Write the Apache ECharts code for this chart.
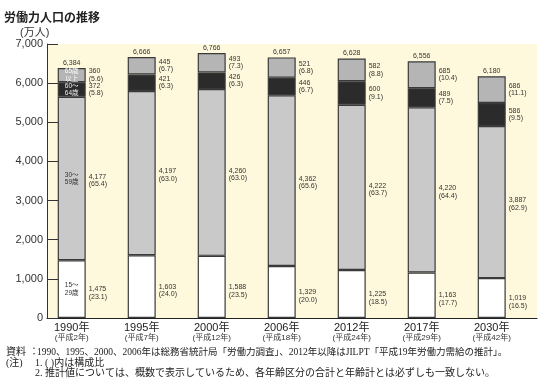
<!DOCTYPE html>
<html>
<head>
<meta charset="utf-8">
<script src="https://cdn.jsdelivr.net/npm/echarts@6/dist/echarts.min.js"></script>
<style>
html,body{margin:0;padding:0;background:#fff;}
#chart{width:550px;height:385px;}
</style>
</head>
<body>
<div id="chart"></div>
<script>
// ---- data ----
const categories = ['1990年','1995年','2000年','2006年','2012年','2017年','2030年'];
const eraLabels = ['(平成2年)','(平成7年)','(平成12年)','(平成18年)','(平成24年)','(平成29年)','(平成42年)'];
const age15_29 = [1475,1603,1588,1329,1225,1163,1019];
const age30_59 = [4177,4197,4260,4362,4222,4220,3887];
const age60_64 = [372,421,426,446,600,489,586];
const age65plus = [360,445,493,521,582,685,686];
const totals = [6384,6666,6766,6657,6628,6556,6180];
const pct15_29 = [23.1,24.0,23.5,20.0,18.5,17.7,16.5];
const pct30_59 = [65.4,63.0,63.0,65.6,63.7,64.4,62.9];
const pct60_64 = [5.8,6.3,6.3,6.7,9.1,7.5,9.5];
const pct65plus = [5.6,6.7,7.3,6.8,8.8,10.4,11.1];
const groupNames = ['15～\n29歳','30～\n59歳','60～\n64歳','65歳\n以上'];
const yTicks = [0,1000,2000,3000,4000,5000,6000,7000];

const fmt = v => v.toLocaleString('en-US');
const FONT = '"Liberation Sans","Noto Sans CJK JP",sans-serif';
const SERIF = '"Liberation Serif","Noto Sans CJK JP",serif';
const TOP = 44, BOTTOM = 67;

function segSeries(name, vals, pcts, color, offY) {
  return {
    name: name, type: 'bar', stack: 'a', xAxisIndex: 0, yAxisIndex: 0,
    barWidth: 28, barGap: '-100%',
    data: vals,
    itemStyle: {color: color, borderColor: '#3a3a3a', borderWidth: 1.2},
    label: {
      show: true, position: 'right', distance: 3, offset: [0, offY],
      fontSize: 7, lineHeight: 7.5, color: '#333', fontFamily: FONT,
      formatter: p => fmt(vals[p.dataIndex]) + '\n(' + pcts[p.dataIndex].toFixed(1) + ')'
    }
  };
}
function insideSeries(vals, text, color) {
  return {
    type: 'bar', stack: 'b', xAxisIndex: 0, yAxisIndex: 0,
    barWidth: 28, barGap: '-100%',
    data: vals.map((v, i) => i === 0 ? v : '-'),
    itemStyle: {color: 'rgba(0,0,0,0)', borderWidth: 0},
    label: {show: true, position: 'inside', fontSize: 6.5, lineHeight: 7.5, color: color,
      fontFamily: FONT, formatter: () => text}
  };
}

const chart = echarts.init(document.getElementById('chart'), null, {renderer: 'canvas'});
chart.setOption({
  animation: false,
  backgroundColor: '#fff',
  textStyle: {fontFamily: FONT},
  grid: [
    {left: 36.7, right: 23.3, top: TOP, bottom: BOTTOM},
    {left: 47, right: 13, top: TOP, bottom: BOTTOM, show: true, backgroundColor: '#fef9dc', borderWidth: 0}
  ],
  xAxis: [
    {type: 'category', gridIndex: 0, data: categories,
     axisLine: {show: false}, axisTick: {show: false},
     axisLabel: {margin: 4, interval: 0,
       formatter: (v, i) => '{y|' + v + '}\n{e|' + eraLabels[i] + '}',
       rich: {y: {fontSize: 11, lineHeight: 11, color: '#222', fontFamily: FONT},
              e: {fontSize: 8, lineHeight: 10, color: '#333', fontFamily: FONT}}}},
    {type: 'category', gridIndex: 1, data: categories,
     axisLine: {show: true, lineStyle: {color: '#222', width: 1.2}},
     axisTick: {show: false}, axisLabel: {show: false}}
  ],
  yAxis: [
    {type: 'value', gridIndex: 0, min: 0, max: 7000, interval: 1000, show: false},
    {type: 'value', gridIndex: 1, min: 0, max: 7000, interval: 1000,
     axisLine: {show: true, lineStyle: {color: '#333', width: 1}},
     axisTick: {show: true, inside: true, length: 11, lineStyle: {color: '#333', width: 1}},
     splitLine: {show: false},
     axisLabel: {margin: 4, fontSize: 11, color: '#333', fontFamily: FONT,
       formatter: v => fmt(yTicks[yTicks.indexOf(v)])}}
  ],
  series: [
    segSeries('15～29歳', age15_29, pct15_29, '#ffffff', 4),
    segSeries('30～59歳', age30_59, pct30_59, '#c9c9c9', 2),
    segSeries('60～64歳', age60_64, pct60_64, '#2b2b2b', 0),
    segSeries('65歳以上', age65plus, pct65plus, '#b5b5b5', 0),
    insideSeries(age15_29, groupNames[0], '#333'),
    insideSeries(age30_59, groupNames[1], '#333'),
    insideSeries(age60_64, groupNames[2], '#eee'),
    insideSeries(age65plus, groupNames[3], '#fff'),
    {
      type: 'bar', xAxisIndex: 0, yAxisIndex: 0, barWidth: 28, barGap: '-100%',
      data: totals,
      itemStyle: {color: 'rgba(0,0,0,0)', borderWidth: 0},
      label: {show: true, position: 'top', distance: 2, fontSize: 7, color: '#333', fontFamily: FONT,
        formatter: p => fmt(totals[p.dataIndex])}
    }
  ],
  graphic: [
    {type: 'text', x: 4, y: 17, style: {text: '労働力人口の推移', fontSize: 12, fontWeight: 'bold', fill: '#222',
      fontFamily: '"Noto Sans CJK JP",sans-serif', verticalAlign: 'middle'}},
    {type: 'text', x: 20, y: 33, style: {text: '(万人)', fontSize: 11, fill: '#333',
      fontFamily: FONT, verticalAlign: 'middle'}},
    {type: 'text', x: 6, y: 352, style: {text: '資料', fontSize: 10, fill: '#222',
      fontFamily: SERIF, verticalAlign: 'middle'}},
    {type: 'text', x: 29, y: 352, style: {text: '：', fontSize: 10, fill: '#222',
      fontFamily: SERIF, verticalAlign: 'middle'}},
    {type: 'text', x: 37, y: 352, style: {text: '1990、1995、2000、2006年は総務省統計局「労働力調査」、2012年以降はJILPT「平成19年労働力需給の推計」。', fontSize: 9.5, fill: '#222',
      fontFamily: SERIF, verticalAlign: 'middle'}},
    {type: 'text', x: 6, y: 363, style: {text: '(注)', fontSize: 10, fill: '#222',
      fontFamily: SERIF, verticalAlign: 'middle'}},
    {type: 'text', x: 35, y: 363, style: {text: '1. ( )内は構成比', fontSize: 10, fill: '#222',
      fontFamily: SERIF, verticalAlign: 'middle'}},
    {type: 'text', x: 35, y: 373.5, style: {text: '2. 推計値については、概数で表示しているため、各年齢区分の合計と年齢計とは必ずしも一致しない。', fontSize: 10, fill: '#222',
      fontFamily: SERIF, verticalAlign: 'middle'}}
  ]
});
</script>
</body>
</html>
